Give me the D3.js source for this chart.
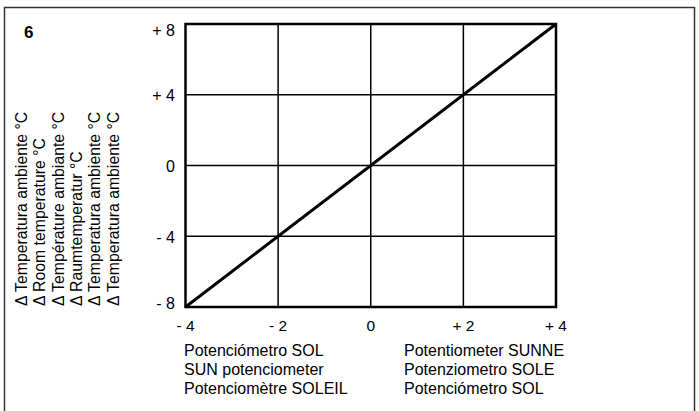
<!DOCTYPE html>
<html>
<head>
<meta charset="utf-8">
<script src="https://cdn.jsdelivr.net/npm/d3@7"></script>
<style>
  body { margin: 0; background: #fff; }
  text { font-family: "Liberation Sans", Arial, sans-serif; fill: #000; }
</style>
</head>
<body>
<div id="chart"></div>
<script>
const width = 699;
const height = 411;

// data
const xTicks = [-4, -2, 0, 2, 4];
const yTicks = [-8, -4, 0, 4, 8];
const xTickLabels = ['- 4', '- 2', '0', '+ 2', '+ 4'];
const yTickLabels = ['- 8', '- 4', '0', '+ 4', '+ 8'];
const sunPot = [-4, 4];
const roomDelta = [-8, 8];
const yLabels = [
  '\u0394 Temperatura ambiente °C',
  '\u0394 Room temperature °C',
  '\u0394 Température ambiante °C',
  '\u0394 Raumtemperatur °C',
  '\u0394 Temperatura ambiente °C',
  '\u0394 Temperatura ambiente °C'
];
const xLabelsLeft = ['Potenciómetro SOL', 'SUN potenciometer', 'Potenciomètre SOLEIL'];
const xLabelsRight = ['Potentiometer SUNNE', 'Potenziometro SOLE', 'Potenciómetro SOL'];

const plot = { left: 185.5, right: 556, top: 24, bottom: 307 };

const svg = d3.select('#chart').append('svg')
  .attr('width', width)
  .attr('height', height);

// outer frame (bottom edge is cut off)
svg.append('path')
  .attr('d', `M4.5,${height} V7.5 H694.5 V${height}`)
  .attr('fill', 'none')
  .attr('stroke', '#333')
  .attr('stroke-width', 1.5);

svg.append('text')
  .attr('x', 24)
  .attr('y', 38)
  .attr('font-size', 17)
  .attr('font-weight', 'bold')
  .text('6');

const x = d3.scaleLinear().domain([-4, 4]).range([plot.left, plot.right]);
const y = d3.scaleLinear().domain([-8, 8]).range([plot.bottom, plot.top]);

// grid
svg.append('g').selectAll('line')
  .data(xTicks.slice(1, -1))
  .join('line')
  .attr('x1', d => x(d)).attr('x2', d => x(d))
  .attr('y1', plot.top).attr('y2', plot.bottom)
  .attr('stroke', '#000').attr('stroke-width', 1.5);

svg.append('g').selectAll('line')
  .data(yTicks.slice(1, -1))
  .join('line')
  .attr('y1', d => y(d)).attr('y2', d => y(d))
  .attr('x1', plot.left).attr('x2', plot.right)
  .attr('stroke', '#000').attr('stroke-width', 1.5);

// plot frame
svg.append('rect')
  .attr('x', plot.left).attr('y', plot.top)
  .attr('width', plot.right - plot.left)
  .attr('height', plot.bottom - plot.top)
  .attr('fill', 'none')
  .attr('stroke', '#000')
  .attr('stroke-width', 2.5);

// tick labels
svg.append('g').selectAll('text')
  .data(yTicks)
  .join('text')
  .attr('x', 175)
  .attr('y', d => y(d) + (d === 8 ? 11.5 : d === -8 ? 1.5 : 6.5))
  .attr('text-anchor', 'end')
  .attr('font-size', 16)
  .text((d, i) => yTickLabels[i]);

svg.append('g').selectAll('text')
  .data(xTicks)
  .join('text')
  .attr('x', d => x(d))
  .attr('y', 331)
  .attr('text-anchor', 'middle')
  .attr('font-size', 15.5)
  .text((d, i) => xTickLabels[i]);

// diagonal
const line = d3.line()
  .x(d => x(d[0]))
  .y(d => y(d[1]));

svg.append('path')
  .datum(d3.zip(sunPot, roomDelta))
  .attr('d', line)
  .attr('fill', 'none')
  .attr('stroke', '#000')
  .attr('stroke-width', 3);

// rotated y labels
svg.append('g').selectAll('text')
  .data(yLabels)
  .join('text')
  .attr('transform', (d, i) => `translate(${27 + i * 18.3},306) rotate(-90)`)
  .attr('font-size', 15.8)
  .text(d => d);

// bottom labels
svg.append('g').selectAll('text')
  .data(xLabelsLeft)
  .join('text')
  .attr('x', 184)
  .attr('y', (d, i) => 355.5 + i * 19.3)
  .attr('font-size', 16)
  .text(d => d);

svg.append('g').selectAll('text')
  .data(xLabelsRight)
  .join('text')
  .attr('x', 404)
  .attr('y', (d, i) => 355.5 + i * 19.3)
  .attr('font-size', 16)
  .text(d => d);
</script>
</body>
</html>
